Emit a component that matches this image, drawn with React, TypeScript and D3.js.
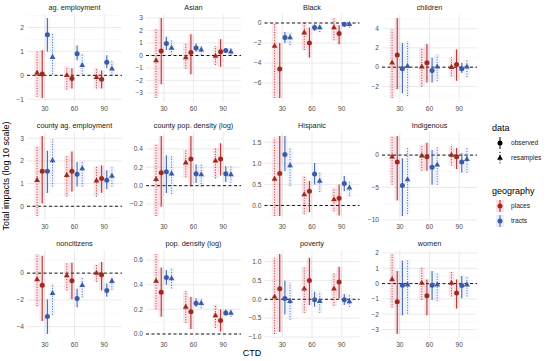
import React from "react";
import * as d3 from "d3";

const width = 550;
const height = 361;

const ctds = ["30", "60", "90"];
const panelNames = [
  "ag. employment", "Asian", "Black", "children",
  "county ag. employment", "county pop. density (log)", "Hispanic", "Indigenous",
  "noncitizens", "pop. density (log)", "poverty", "women",
];

// order of the four estimates inside each CTD group
const seriesGeo = ["places", "places", "tracts", "tracts"];
const seriesData = ["resamples", "observed", "observed", "resamples"];

// rows: [estimate, lower, upper]; 4 rows per CTD (30, 60, 90)
const agEmployment = [
  [0.1, -0.9, 1.0], [0.05, -0.95, 1.05], [1.7, 1.0, 2.4], [0.76, 0.05, 1.75],
  [0.0, -0.6, 0.38], [-0.13, -0.55, 0.3], [0.9, 0.63, 1.25], [0.42, 0.05, 0.93],
  [-0.08, -0.55, 0.3], [-0.17, -0.55, 0.2], [0.55, 0.3, 0.84], [0.27, 0.0, 0.6],
];
const asian = [
  [-0.4, -3.4, 2.1], [0.37, -2.3, 3.0], [0.97, 0.45, 1.5], [0.6, 0.07, 1.25],
  [-0.17, -1.05, 0.97], [0.25, -1.5, 1.7], [0.6, 0.3, 0.97], [0.45, 0.07, 0.75],
  [-0.05, -0.75, 0.75], [0.3, -0.9, 1.3], [0.4, 0.2, 0.6], [0.3, 0.07, 0.6],
];
const black = [
  [-2.3, -7.5, 0.0], [-4.6, -7.5, -2.0], [-1.46, -2.0, -0.9], [-1.46, -2.2, -0.9],
  [-0.97, -2.7, 0.1], [-2.0, -3.46, -0.46], [-0.46, -0.8, -0.13], [-0.46, -0.9, -0.13],
  [-0.46, -1.73, 0.5], [-1.06, -2.13, -0.23], [-0.13, -0.4, 0.05], [-0.13, -0.46, 0.0],
];
const children = [
  [0.45, -3.2, 3.9], [1.25, -2.3, 5.1], [-0.17, -2.7, 2.5], [0.1, -3.0, 2.7],
  [0.03, -2.0, 2.0], [0.45, -1.6, 2.4], [-0.35, -1.6, 0.97], [0.03, -1.45, 1.3],
  [0.0, -0.95, 1.0], [0.28, -1.4, 1.84], [-0.17, -0.6, 0.45], [0.03, -1.04, 0.8],
];
const countyAgEmployment = [
  [1.15, -0.43, 2.67], [1.54, 0.12, 3.1], [1.54, 0.58, 2.45], [2.02, 0.87, 2.96],
  [1.37, 0.43, 2.24], [1.54, 0.65, 2.42], [1.41, 0.87, 1.95], [1.66, 0.87, 2.02],
  [1.13, 0.43, 1.76], [1.23, 0.6, 1.8], [1.15, 0.75, 1.59], [1.33, 0.87, 1.76],
];
const countyPopDensity = [
  [0.07, -0.33, 0.45], [0.14, -0.23, 0.54], [0.15, -0.08, 0.33], [0.13, -0.09, 0.33],
  [0.25, 0.09, 0.39], [0.29, -0.01, 0.54], [0.13, 0.03, 0.23], [0.12, -0.01, 0.23],
  [0.27, 0.08, 0.41], [0.29, 0.11, 0.46], [0.13, 0.04, 0.21], [0.12, 0.03, 0.21],
];
const hispanic = [
  [0.63, -0.25, 1.61], [0.76, -0.25, 1.65], [1.21, 0.82, 1.65], [0.95, 0.46, 1.37],
  [0.26, -0.21, 0.7], [0.34, -0.16, 0.58], [0.75, 0.5, 1.01], [0.58, 0.32, 0.78],
  [0.14, -0.14, 0.42], [0.17, -0.24, 0.5], [0.52, 0.34, 0.7], [0.42, 0.22, 0.58],
];
const indigenous = [
  [-0.27, -4.57, 2.95], [-1.08, -7.0, 2.95], [-4.7, -9.4, -0.5], [-3.76, -9.1, 1.08],
  [-0.1, -2.4, 1.6], [-0.27, -2.4, 1.9], [-1.88, -4.57, 0.8], [-1.5, -4.57, 1.24],
  [0.0, -1.6, 1.34], [-0.27, -2.15, 1.08], [-1.08, -2.7, 0.27], [-0.65, -2.7, 1.08],
];
const noncitizens = [
  [-0.47, -2.47, 1.43], [-0.91, -3.58, 1.3], [-3.25, -4.55, -1.95], [-1.51, -3.12, -0.78],
  [-0.18, -1.3, 0.78], [-0.57, -1.95, 0.78], [-1.9, -2.55, -1.17], [-0.91, -1.82, -0.26],
  [0.0, -0.65, 0.65], [-0.13, -1.3, 0.83], [-1.3, -1.77, -0.78], [-0.6, -1.25, -0.26],
];
const popDensity = [
  [0.43, 0.2, 0.65], [0.34, 0.14, 0.54], [0.46, 0.4, 0.52], [0.45, 0.37, 0.54],
  [0.22, 0.09, 0.35], [0.18, 0.04, 0.3], [0.25, 0.22, 0.29], [0.25, 0.21, 0.29],
  [0.15, 0.05, 0.24], [0.11, 0.02, 0.2], [0.17, 0.15, 0.2], [0.17, 0.14, 0.2],
];
const poverty = [
  [0.065, -0.92, 1.1], [0.28, -0.87, 1.2], [0.02, -0.4, 0.49], [-0.05, -0.54, 0.44],
  [0.28, -0.36, 0.86], [0.5, -0.15, 1.1], [-0.01, -0.2, 0.2], [-0.05, -0.36, 0.2],
  [0.28, -0.17, 0.69], [0.46, 0.02, 0.86], [-0.01, -0.15, 0.14], [-0.06, -0.2, 0.14],
];
const women = [
  [0.27, -1.56, 1.93], [-1.18, -3.29, 0.82], [-0.11, -2.07, 1.49], [-0.07, -1.96, 1.6],
  [0.04, -1.07, 1.04], [-0.8, -2.07, 0.27], [-0.11, -1.07, 0.82], [-0.07, -1.13, 0.71],
  [0.04, -0.84, 0.76], [-0.62, -1.62, 0.27], [-0.13, -0.96, 0.49], [-0.07, -0.84, 0.49],
];
const panelValues = [
  agEmployment, asian, black, children,
  countyAgEmployment, countyPopDensity, hispanic, indigenous,
  noncitizens, popDensity, poverty, women,
];

// y tick labels per panel
const panelTicks = [
  [-1, 0, 1, 2], [-3, -2, -1, 0, 1, 2, 3], [-6, -4, -2, 0], [-2, 0, 2, 4],
  [0, 1, 2, 3], [-0.2, 0, 0.2, 0.4], [0, 0.5, 1, 1.5], [-10, -5, 0],
  [-4, -2, 0], [0, 0.2, 0.4, 0.6], [-1, -0.5, 0, 0.5, 1], [-3, -2, -1, 0, 1, 2],
];

const geoColor: Record<string, string> = { places: "#9e2a1f", tracts: "#3b5ba8" };
const haloColor: Record<string, string> = { places: "#e8446a", tracts: "#5b7fd6" };
const font = "'Liberation Sans', Arial, sans-serif";

const colLeft = [27, 146, 264.5, 382];
const rowTop = [14, 132, 250];
const panelW = 95;
const panelH = 88;
const dodge = [-0.26, -0.087, 0.087, 0.26];

function tri(x: number, y: number, r: number) {
  return `M${x},${y - r * 1.15}L${x + r},${y + r * 0.6}L${x - r},${y + r * 0.6}Z`;
}

function Panel({ idx }: { idx: number }) {
  const col = idx % 4;
  const row = Math.floor(idx / 4);
  const left = colLeft[col];
  const top = rowTop[row];
  const vals = panelValues[idx];
  const ticks = panelTicks[idx];

  const x = d3.scalePoint().domain(ctds).range([left, left + panelW]).padding(0.6);
  const step = x.step();
  const lo = d3.min(vals, (d) => d[1])!;
  const hi = d3.max(vals, (d) => d[2])!;
  const dmin = Math.min(lo, 0);
  const dmax = Math.max(hi, 0);
  const pad = (dmax - dmin) * 0.05;
  const y = d3.scaleLinear().domain([dmin - pad, dmax + pad]).range([top + panelH, top]);

  const tickStep = ticks[1] - ticks[0];
  const minor: number[] = [];
  for (let i = -1; i < ticks.length; i++) {
    const v = (i < 0 ? ticks[0] - tickStep : ticks[i]) + tickStep / 2;
    if (v > y.domain()[0] && v < y.domain()[1]) minor.push(v);
  }
  const fmt = tickStep < 1 ? d3.format(".1f") : d3.format("d");

  const marks = vals.map((d, i) => {
    const s = i % 4;
    return {
      d,
      cx: x(ctds[Math.floor(i / 4)])! + dodge[s] * step,
      geo: seriesGeo[s],
      obs: seriesData[s] === "observed",
    };
  });

  return (
    <g>
      <text x={left + panelW / 2} y={top - 4.5} textAnchor="middle" fontSize={7.3} fill="#1a1a1a" fontFamily={font}>
        {panelNames[idx]}
      </text>
      {minor.map((v) => (
        <line key={"m" + v} x1={left} x2={left + panelW} y1={y(v)} y2={y(v)} stroke="#f2f2f2" strokeWidth={0.5} />
      ))}
      {ticks.map((v) => (
        <line key={"t" + v} x1={left} x2={left + panelW} y1={y(v)} y2={y(v)} stroke="#e6e6e6" strokeWidth={0.8} />
      ))}
      {ctds.map((c) => (
        <line key={"v" + c} x1={x(c)} x2={x(c)} y1={top} y2={top + panelH} stroke="#e6e6e6" strokeWidth={0.8} />
      ))}
      {ticks.map((v) => (
        <text key={"l" + v} x={left - 3} y={y(v)} dy="0.35em" textAnchor="end" fontSize={6.6} fill="#4d4d4d" fontFamily={font}>
          {fmt(v)}
        </text>
      ))}
      {ctds.map((c) => (
        <text key={"x" + c} x={x(c)} y={top + panelH + 8.5} textAnchor="middle" fontSize={6.6} fill="#4d4d4d" fontFamily={font}>
          {c}
        </text>
      ))}
      {marks.map((m, i) => (
        <line
          key={"h" + i}
          x1={m.cx} x2={m.cx} y1={y(m.d[1])} y2={y(m.d[2])}
          stroke={haloColor[m.geo]} strokeWidth={5.5}
          opacity={m.geo === "places" ? 0.13 : 0.07}
        />
      ))}
      <line x1={left} x2={left + panelW} y1={y(0)} y2={y(0)} stroke="#000" strokeWidth={0.9} strokeDasharray="3,2.5" />
      {marks.map((m, i) => {
        const color = geoColor[m.geo];
        return (
          <g key={"p" + i}>
            <line
              x1={m.cx} x2={m.cx} y1={y(m.d[1])} y2={y(m.d[2])}
              stroke={color} strokeWidth={m.obs ? 1.1 : 1}
              strokeDasharray={m.obs ? undefined : "1,1.6"}
              opacity={0.9}
            />
            {m.obs ? (
              <circle cx={m.cx} cy={y(m.d[0])} r={2.5} fill={color} />
            ) : (
              <path d={tri(m.cx, y(m.d[0]), 2.9)} fill={color} />
            )}
          </g>
        );
      })}
    </g>
  );
}

function Legend() {
  const lx = 492;
  const kx = 500;
  const tx = 511;
  return (
    <g fontFamily={font}>
      <text x={lx} y={131} fontSize={9} fill="#000">data</text>
      <line x1={kx} x2={kx} y1={137} y2={149} stroke="#000" strokeWidth={1} />
      <circle cx={kx} cy={143} r={2.5} fill="#000" />
      <text x={tx} y={143} dy="0.35em" fontSize={6.6} fill="#1a1a1a">observed</text>
      <line x1={kx} x2={kx} y1={152} y2={164} stroke="#000" strokeWidth={1} strokeDasharray="1,1.6" />
      <path d={tri(kx, 158, 2.9)} fill="#000" />
      <text x={tx} y={158} dy="0.35em" fontSize={6.6} fill="#1a1a1a">resamples</text>

      <text x={lx} y={194} fontSize={9} fill="#000">geography</text>
      <line x1={kx} x2={kx} y1={200} y2={212} stroke={haloColor.places} strokeWidth={8} opacity={0.18} />
      <line x1={kx} x2={kx} y1={200} y2={212} stroke={geoColor.places} strokeWidth={1} />
      <circle cx={kx} cy={206} r={2.5} fill={geoColor.places} />
      <text x={tx} y={206} dy="0.35em" fontSize={6.6} fill="#1a1a1a">places</text>
      <line x1={kx} x2={kx} y1={215} y2={227} stroke={haloColor.tracts} strokeWidth={8} opacity={0.12} />
      <line x1={kx} x2={kx} y1={215} y2={227} stroke={geoColor.tracts} strokeWidth={1} />
      <circle cx={kx} cy={221} r={2.5} fill={geoColor.tracts} />
      <text x={tx} y={221} dy="0.35em" fontSize={6.6} fill="#1a1a1a">tracts</text>
    </g>
  );
}

export default function App() {
  return (
    <svg width={width} height={height} style={{ position: "absolute", left: 0, top: 0, background: "#fff" }}>
      {panelNames.map((_, i) => (
        <Panel key={i} idx={i} />
      ))}
      <text
        transform={`translate(9,${(rowTop[0] + rowTop[2] + panelH) / 2}) rotate(-90)`}
        textAnchor="middle" fontSize={9} fill="#000" fontFamily={font}
      >
        Total impacts (log 10 scale)
      </text>
      <text x={(colLeft[0] + colLeft[3] + panelW) / 2} y={356} textAnchor="middle" fontSize={9} fill="#000" fontFamily={font}>
        CTD
      </text>
      <Legend />
    </svg>
  );
}
